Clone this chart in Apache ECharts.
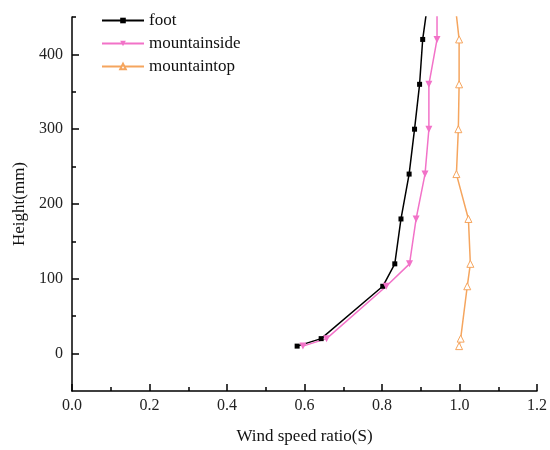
<!DOCTYPE html>
<html><head><meta charset="utf-8">
<script src="https://cdn.jsdelivr.net/npm/echarts@6/dist/echarts.min.js"></script>
<style>html,body{margin:0;padding:0;background:#fff}#c{width:550px;height:450px}</style>
</head><body><div id="c"></div>
<script>
const heights = [10, 20, 90, 120, 180, 240, 300, 360, 420, 480];
const foot = [0.581, 0.643, 0.802, 0.833, 0.849, 0.870, 0.884, 0.897, 0.905, 0.921];
const mountainside = [0.596, 0.657, 0.811, 0.871, 0.888, 0.911, 0.921, 0.921, 0.942, 0.942];
const mountaintop = [0.999, 1.003, 1.020, 1.028, 1.023, 0.992, 0.997, 0.999, 0.999, 0.986];
const xMajor = [0, 0.2, 0.4, 0.6, 0.8, 1.0, 1.2];
const xMinor = [0.1, 0.3, 0.5, 0.7, 0.9, 1.1];
const yMajor = [0, 100, 200, 300, 400];
const yMinor = [50, 150, 250, 350, 450];

const F = 'Liberation Serif';
const chart = echarts.init(document.getElementById('c'));
const pairs = arr => arr.map((v, i) => [v, heights[i]]);
const tickAxisY = (vals, len) => ({
  type: 'value', min: -50, max: 450, position: 'left',
  axisLine: {show: false, onZero: false},
  axisTick: {show: true, inside: true, length: len, customValues: vals, lineStyle: {color: '#000', width: 1.5}},
  axisLabel: {show: false}, splitLine: {show: false}
});
chart.setOption({
  animation: false,
  grid: {left: 72, right: 9, top: 17, bottom: 59},
  legend: {
    orient: 'vertical', left: 96, top: 7, itemWidth: 42, itemHeight: 7, itemGap: 6,
    textStyle: {fontFamily: F, fontSize: 17, color: '#111'},
    data: ['foot', 'mountainside', 'mountaintop']
  },
  xAxis: [{
    type: 'value', min: 0, max: 1.2,
    name: 'Wind speed ratio(S)', nameLocation: 'middle', nameGap: 37,
    nameTextStyle: {fontFamily: F, fontSize: 17, color: '#111'},
    axisLine: {onZero: false, lineStyle: {color: '#000', width: 1.5}},
    axisTick: {inside: true, length: 7, customValues: xMajor, lineStyle: {color: '#000', width: 1.5}},
    axisLabel: {customValues: xMajor, formatter: v => v.toFixed(1), fontFamily: F, fontSize: 16, color: '#222', margin: 7},
    splitLine: {show: false}
  }, {
    type: 'value', min: 0, max: 1.2, position: 'bottom',
    axisLine: {show: false, onZero: false},
    axisTick: {inside: true, length: 4, customValues: xMinor, lineStyle: {color: '#000', width: 1.5}},
    axisLabel: {show: false}, splitLine: {show: false}
  }],
  yAxis: [{
    type: 'value', min: -50, max: 450,
    name: 'Height(mm)', nameLocation: 'middle', nameGap: 44, nameRotate: 90,
    nameTextStyle: {fontFamily: F, fontSize: 17, color: '#111'},
    axisLine: {show: true, onZero: false, lineStyle: {color: '#000', width: 1.5}},
    axisTick: {show: false},
    axisLabel: {customValues: yMajor, fontFamily: F, fontSize: 16, color: '#222', margin: 9},
    splitLine: {show: false}
  }, tickAxisY(yMinor, 4), tickAxisY(yMajor, 7)],
  series: [{
    name: 'foot', type: 'line', data: pairs(foot), clip: true,
    symbol: 'rect', symbolSize: 5,
    itemStyle: {color: '#000'}, lineStyle: {color: '#000', width: 1.5}
  }, {
    name: 'mountainside', type: 'line', data: pairs(mountainside), clip: true,
    symbol: 'triangle', symbolRotate: 180, symbolSize: 7,
    itemStyle: {color: '#f272c8'}, lineStyle: {color: '#f272c8', width: 1.5}
  }, {
    name: 'mountaintop', type: 'line', data: pairs(mountaintop), clip: true,
    symbol: 'triangle', symbolSize: 7,
    itemStyle: {color: '#fff', borderColor: '#f5a55e', borderWidth: 1},
    lineStyle: {color: '#f5a55e', width: 1.5}
  }]
});
</script></body></html>
